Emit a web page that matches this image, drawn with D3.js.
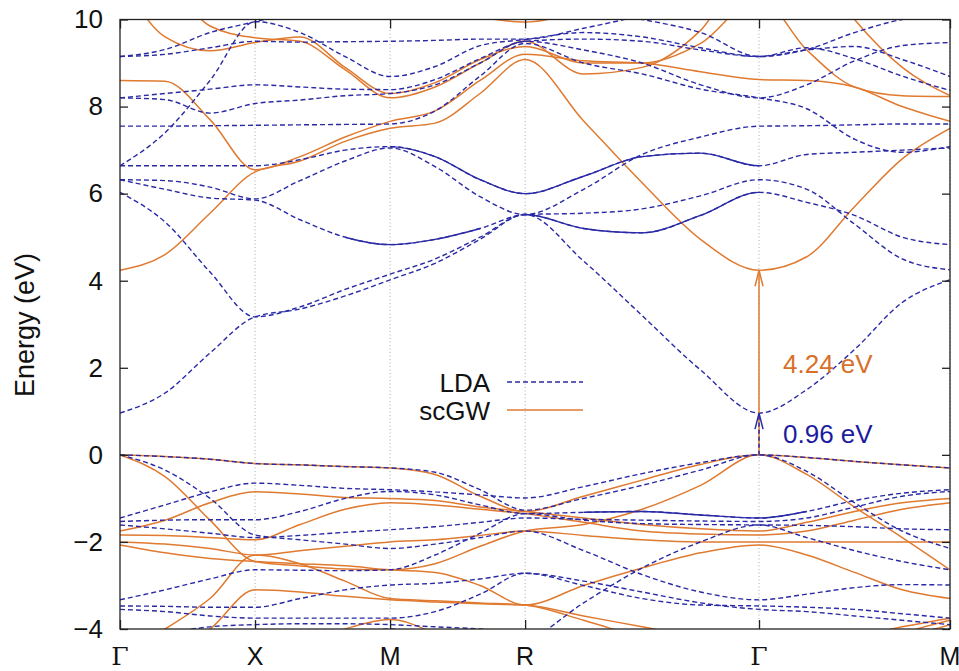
<!DOCTYPE html>
<html><head><meta charset="utf-8">
<script src="https://cdn.jsdelivr.net/npm/d3@7"></script>
<style>
body{margin:0;background:#fff}
text{font-family:"Liberation Sans",Arial,Helvetica,sans-serif}
</style>
</head><body>
<svg id="chart" width="959" height="671"></svg>
<script>
// ---- k-path data (path length coordinate of sampled k-points) ----
const kGrid = [0, 0.1667, 0.3333, 0.5, 0.6667, 0.8333, 1.0, 1.1667, 1.3333, 1.5,
               1.7165, 1.933, 2.1495, 2.366, 2.5428, 2.7196, 2.8963, 3.0731];
const symK = [0, 0.5, 1.0, 1.5, 2.366, 3.0731];
const symLabels = ["Γ", "X", "M", "R", "Γ", "M"];
const yTicks = [-4, -2, 0, 2, 4, 6, 8, 10];

// ---- LDA bands (eV) ----
const lda_v1 = [0,-0.04,-0.1,-0.2, -0.23,-0.27,-0.3, -0.4,-0.8,-1.27, -1.0,-0.7,-0.35,0, -0.06,-0.15,-0.23,-0.3];
const lda_v2 = [0,-0.35,-1.0,-1.84, -1.95,-2.05,-2.15, -2.05,-1.9,-1.75, -2.2,-2.75,-3.15,-3.33, -3.2,-3.05,-2.98,-2.99];
const lda_v3 = [-1.45,-1.15,-0.85,-0.65, -0.7,-0.77,-0.8, -0.85,-0.92,-0.99, -0.73,-0.43,-0.18,0, -0.38,-1.1,-1.75,-2.15];
const lda_v4 = [-1.53,-1.5,-1.49,-1.49, -1.3,-1.0,-0.84, -0.92,-1.15,-1.35, -1.32,-1.3,-1.38,-1.45, -1.3,-1.05,-0.88,-0.8];
const lda_v5 = [-1.61,-1.7,-1.8,-1.9, -1.85,-1.78,-1.72, -1.65,-1.55,-1.45, -1.48,-1.5,-1.52,-1.53, -1.45,-1.2,-0.95,-0.84];
const lda_v6 = [-3.33,-3.1,-2.85,-2.64, -2.65,-2.66,-2.64, -2.3,-1.8,-1.35, -1.5,-1.58,-1.6,-1.61, -1.62,-1.65,-1.7,-1.72];
const lda_v7 = [-3.47,-3.48,-3.5,-3.5, -3.3,-3.1,-2.99, -2.95,-2.85,-2.72, -3.0,-3.3,-3.45,-3.47, -3.5,-3.55,-3.65,-3.75];
const lda_v8 = [-3.55,-3.6,-3.7,-3.75, -3.75,-3.75,-3.75, -3.6,-3.2,-2.72, -2.9,-3.15,-3.4,-3.55, -3.6,-3.7,-3.8,-3.9];
const lda_v9 = [-4.3,-4.1,-3.95,-3.9, -3.88,-3.88,-3.9, -3.95,-4.0,-4.1, -4.2,-4.3,-4.4,-4.5, -4.4,-4.2,-4.05,-4.0];
const lda_v10 = [-4.6,-4.5,-4.4,-4.3, -4.2,-4.1,-4.0, -4.2,-4.5,-4.3, -3.4,-2.6,-2.0,-1.61, -1.9,-2.2,-2.45,-2.64];
const lda_c1 = [0.96,1.42,2.34,3.17, 3.35,3.65,4.02, 4.4,4.95,5.52, 4.45,3.2,1.95,0.96, 1.5,2.42,3.5,4.02];
const lda_c2 = [6.03,5.35,4.2,3.17, 3.4,3.8,4.15, 4.5,5.0,5.52, 5.2,5.1,5.5,6.03, 5.8,5.5,5.0,4.83];
const lda_c3 = [6.32,6.1,5.9,5.85, 5.4,5.0,4.83, 4.95,5.2,5.52, 5.55,5.65,5.95,6.32, 6.1,5.3,4.5,4.25];
const lda_c4 = [6.32,6.3,6.15,5.88, 6.3,6.75,7.05, 6.62,5.93,5.52, 6.1,6.9,7.3,7.55, 7.56,7.58,7.6,7.6];
const lda_c5 = [6.64,6.64,6.64,6.64, 6.78,7.0,7.08, 6.85,6.32,6.0, 6.4,6.85,6.93,6.64, 6.9,6.95,7.0,7.05];
const lda_c6 = [7.55,7.55,7.56,7.57, 7.58,7.59,7.6, 7.9,8.7,9.45, 9.0,8.75,8.4,8.2, 7.95,7.25,6.95,7.08];
const lda_c7 = [8.2,8.16,7.85,8.07, 8.15,8.25,8.3, 8.5,9.0,9.5, 9.3,9.0,8.5,8.2, 8.5,9.05,9.4,9.47];
const lda_c8 = [8.2,8.3,8.4,8.5, 8.45,8.4,8.39, 8.62,9.1,9.5, 9.55,9.5,9.3,9.15, 9.35,9.1,8.7,8.37];
const lda_c9 = [6.64,7.4,8.6,9.95, 9.7,9.15,8.69, 8.92,9.4,9.54, 9.7,9.6,9.35,9.15, 9.3,9.38,9.08,8.69];
const lda_c10 = [9.15,9.2,9.35,9.5, 9.48,9.49,9.5, 9.52,9.55,9.55, 9.8,10.1,10.5,10.8, 10.5,10.3,10.1,10.0];
const lda_c11 = [9.15,9.31,9.7,9.95, 10.2,10.4,10.5, 10.4,10.3,10.2, 10.2,10.0,9.7,9.15, 9.31,9.7,10.0,10.1];

// degenerate LDA stretches that print as solid lines: [band, first k index, last k index]
const ldaSolid = [["lda_c2", 9, 13], ["lda_c5", 6, 13], ["lda_c3", 5, 8], ["lda_v4", 10, 14]];

// ---- scGW bands (eV) ----
const gw_v1 = [0,-0.04,-0.1,-0.2, -0.23,-0.27,-0.3, -0.45,-0.95,-1.3, -0.95,-0.58,-0.22,0, -0.06,-0.15,-0.23,-0.3];
const gw_v2 = [0,-0.5,-1.5,-2.45, -2.55,-2.62,-2.64, -2.5,-2.1,-1.75, -1.6,-1.25,-0.7,0, -0.45,-1.2,-1.9,-2.64];
const gw_v3 = [-1.75,-1.5,-1.1,-0.85, -0.9,-0.98,-1.0, -1.05,-1.2,-1.3, -1.45,-1.6,-1.7,-1.75, -1.55,-1.3,-1.1,-1.0];
const gw_v4 = [-1.84,-1.85,-1.9,-1.95, -1.6,-1.25,-1.1, -1.15,-1.25,-1.35, -1.55,-1.75,-1.82,-1.84, -1.75,-1.5,-1.25,-1.1];
const gw_v5 = [-2.0,-2.05,-2.15,-2.3, -2.2,-2.1,-2.0, -1.95,-1.85,-1.75, -1.85,-1.95,-2.0,-2.0, -2.0,-2.0,-2.0,-2.0];
const gw_v6 = [-2.07,-2.25,-2.38,-2.45, -2.5,-2.55,-2.64, -2.7,-3.0,-3.45, -3.0,-2.6,-2.25,-2.07, -2.3,-2.7,-3.1,-3.3];
const gw_v7 = [-4.6,-4.0,-3.3,-2.3, -2.5,-2.9,-3.3, -3.35,-3.4,-3.45, -3.8,-4.2,-4.5,-4.7, -4.5,-4.2,-3.95,-3.75];
const gw_v8 = [-4.9,-4.6,-4.0,-3.1, -3.15,-3.25,-3.33, -3.38,-3.42,-3.45, -3.7,-3.95,-4.2,-4.4, -4.4,-4.4,-4.2,-3.9];
const gw_v9 = [-5,-5,-4.9,-4.7, -4.4,-4.0,-3.78, -4.1,-4.6,-5, -5,-5,-5,-5, -4.8,-4.5,-4.1,-3.8];
const gw_c1 = [4.24,4.6,5.55,6.5, 6.75,7.2,7.5, 7.62,8.3,9.08, 7.67,6.25,4.95,4.24, 4.55,5.7,6.8,7.5];
const gw_c2 = [8.6,8.58,7.7,6.55, 6.85,7.3,7.66, 7.9,8.6,9.2, 9.05,9.0,8.8,8.62, 8.6,8.45,8.0,7.66];
const gw_c3 = [11,9.6,9.28,9.47, 9.6,8.9,8.3, 8.55,9.08,9.38, 9.0,9.0,9.45,10.5, 9.3,8.45,8.25,8.23];
const gw_c4 = [12,11,9.85,9.58, 9.5,8.85,8.2, 8.45,9.0,9.5, 8.75,8.9,9.75,11.5, 11.5,10.0,8.9,8.25];
const gw_c5 = [12,12,11.5,11, 10.8,10.5,10.3, 10.2,10.05,9.94, 10.2,10.6,11,11.5, 11.5,11,10.5,10.3];

// ---- gap annotations ----
const gapGW = [4.24];
const gapLDA = [0.96];

const ldaBandMap = {lda_v1,lda_v2,lda_v3,lda_v4,lda_v5,lda_v6,lda_v7,lda_v8,lda_v9,lda_v10,
                  lda_c1,lda_c2,lda_c3,lda_c4,lda_c5,lda_c6,lda_c7,lda_c8,lda_c9,lda_c10,lda_c11};
const ldaBands = Object.values(ldaBandMap);
const gwBands = [gw_v1,gw_v2,gw_v3,gw_v4,gw_v5,gw_v6,gw_v7,gw_v8,gw_v9,
                 gw_c1,gw_c2,gw_c3,gw_c4,gw_c5];

const BLUE = "#2a2aa6", ORANGE = "#e07a30";
const svg = d3.select("#chart");
const M = {left:120, right:950, top:19.5, bottom:629};
const x = d3.scaleLinear().domain([0, symK[symK.length-1]]).range([M.left, M.right]);
const y = d3.scaleLinear().domain([-4, 10]).range([M.bottom, M.top]);

svg.append("rect").attr("width",959).attr("height",671).attr("fill","#fff");
svg.append("clipPath").attr("id","plotclip").append("rect")
  .attr("x",M.left).attr("y",M.top).attr("width",M.right-M.left).attr("height",M.bottom-M.top);

// vertical dotted grid at symmetry points
svg.append("g").selectAll("line").data(symK.slice(1)).join("line")
  .attr("x1",d=>x(d)).attr("x2",d=>x(d)).attr("y1",M.top).attr("y2",M.bottom)
  .attr("stroke","#aaa").attr("stroke-width",1).attr("stroke-dasharray","1,2.5");

const toPts = b => b.map((e,i)=>[kGrid[i], e]);
const line = d3.line().x(d=>x(d[0])).y(d=>y(d[1])).curve(d3.curveMonotoneX);
const plot = svg.append("g").attr("clip-path","url(#plotclip)");

plot.append("g").selectAll("path").data(gwBands).join("path")
  .attr("d",b=>line(toPts(b))).attr("fill","none").attr("stroke",ORANGE).attr("stroke-width",1.5);
plot.append("g").selectAll("path").data(ldaBands).join("path")
  .attr("d",b=>line(toPts(b))).attr("fill","none").attr("stroke",BLUE).attr("stroke-width",1.4)
  .attr("stroke-dasharray","5,3");
// solid-looking degenerate stretches: draw the same curve again, clipped to the k-range
ldaSolid.forEach(([name,i0,i1],j)=>{
  const pts = toPts(ldaBandMap[name]);
  const cid = "solidclip"+j;
  svg.append("clipPath").attr("id",cid).append("rect")
    .attr("x",x(kGrid[i0])).attr("y",M.top).attr("width",x(kGrid[i1])-x(kGrid[i0])).attr("height",M.bottom-M.top);
  plot.append("path").attr("clip-path",`url(#${cid})`).attr("d",line(pts))
    .attr("fill","none").attr("stroke",BLUE).attr("stroke-width",1.4);
});

// axes frame
svg.append("rect").attr("x",M.left).attr("y",M.top).attr("width",M.right-M.left)
  .attr("height",M.bottom-M.top).attr("fill","none").attr("stroke","#222").attr("stroke-width",1.3);

// y ticks (inward, both sides)
const yAxisL = d3.axisLeft(y).tickValues(yTicks).tickSize(-8).tickPadding(17).tickFormat(d3.format("d"));
const gL = svg.append("g").attr("transform",`translate(${M.left},0)`).call(yAxisL);
gL.select(".domain").remove();
gL.selectAll("line").attr("stroke","#222").attr("stroke-width",1.3);
gL.selectAll("text").attr("font-size",26).attr("fill","#111")
  .attr("font-family","'Liberation Sans',Arial,sans-serif");
const yAxisR = d3.axisRight(y).tickValues(yTicks).tickSize(-8).tickFormat("");
const gR = svg.append("g").attr("transform",`translate(${M.right},0)`).call(yAxisR);
gR.select(".domain").remove();
gR.selectAll("line").attr("stroke","#222").attr("stroke-width",1.3);

// x ticks (inward top & bottom) + labels
const xAxisB = d3.axisBottom(x).tickValues(symK).tickSize(-9).tickFormat("");
const gB = svg.append("g").attr("transform",`translate(0,${M.bottom})`).call(xAxisB);
gB.select(".domain").remove();
gB.selectAll("line").attr("stroke","#222").attr("stroke-width",1.3);
const xAxisT = d3.axisTop(x).tickValues(symK).tickSize(-9).tickFormat("");
const gT = svg.append("g").attr("transform",`translate(0,${M.top})`).call(xAxisT);
gT.select(".domain").remove();
gT.selectAll("line").attr("stroke","#222").attr("stroke-width",1.3);

svg.append("g").selectAll("text").data(symK).join("text")
  .attr("x",d=>x(d)).attr("y",665).attr("text-anchor","middle")
  .attr("font-size",25).attr("fill","#111")
  .style("font-family",(d,i)=>symLabels[i]==="Γ" ? "'DejaVu Serif','Liberation Serif',serif" : "'Liberation Sans',Arial,sans-serif")
  .text((d,i)=>symLabels[i]);

// y label
svg.append("text").attr("transform","translate(34,325) rotate(-90)")
  .attr("text-anchor","middle").attr("font-size",27).attr("fill","#111").text("Energy (eV)");

// legend
const legend = [{name:"LDA", color:BLUE, dash:"5,3", y:382},{name:"scGW", color:ORANGE, dash:null, y:410}];
const lg = svg.append("g").selectAll("g").data(legend).join("g");
lg.append("text").attr("x",490).attr("y",d=>d.y+9.5).attr("text-anchor","end")
  .attr("font-size",26).attr("fill","#111").text(d=>d.name);
lg.append("line").attr("x1",507).attr("x2",583).attr("y1",d=>d.y).attr("y2",d=>d.y)
  .attr("stroke",d=>d.color).attr("stroke-width",1.5).attr("stroke-dasharray",d=>d.dash);

// gap arrows
const gx = x(symK[4]);
function arrow(val, color, dash){
  const g = svg.append("g");
  g.append("line").attr("x1",gx).attr("x2",gx).attr("y1",y(0)).attr("y2",y(val))
    .attr("stroke",color).attr("stroke-width",1.5).attr("stroke-dasharray",dash);
  g.append("path").attr("d",`M${gx-4},${y(val)+16} L${gx},${y(val)} L${gx+4},${y(val)+16}`)
    .attr("fill","none").attr("stroke",color).attr("stroke-width",1.5);
}
arrow(gapGW[0], ORANGE, null);
arrow(gapLDA[0], BLUE, "4,3");

svg.append("text").attr("x",783).attr("y",373).attr("font-size",26).attr("fill","#d8702a")
  .text(d3.format(".2f")(gapGW[0]) + " eV");
svg.append("text").attr("x",783).attr("y",443).attr("font-size",26).attr("fill","#1c1ca0")
  .text(d3.format(".2f")(gapLDA[0]) + " eV");
</script>
</body></html>
